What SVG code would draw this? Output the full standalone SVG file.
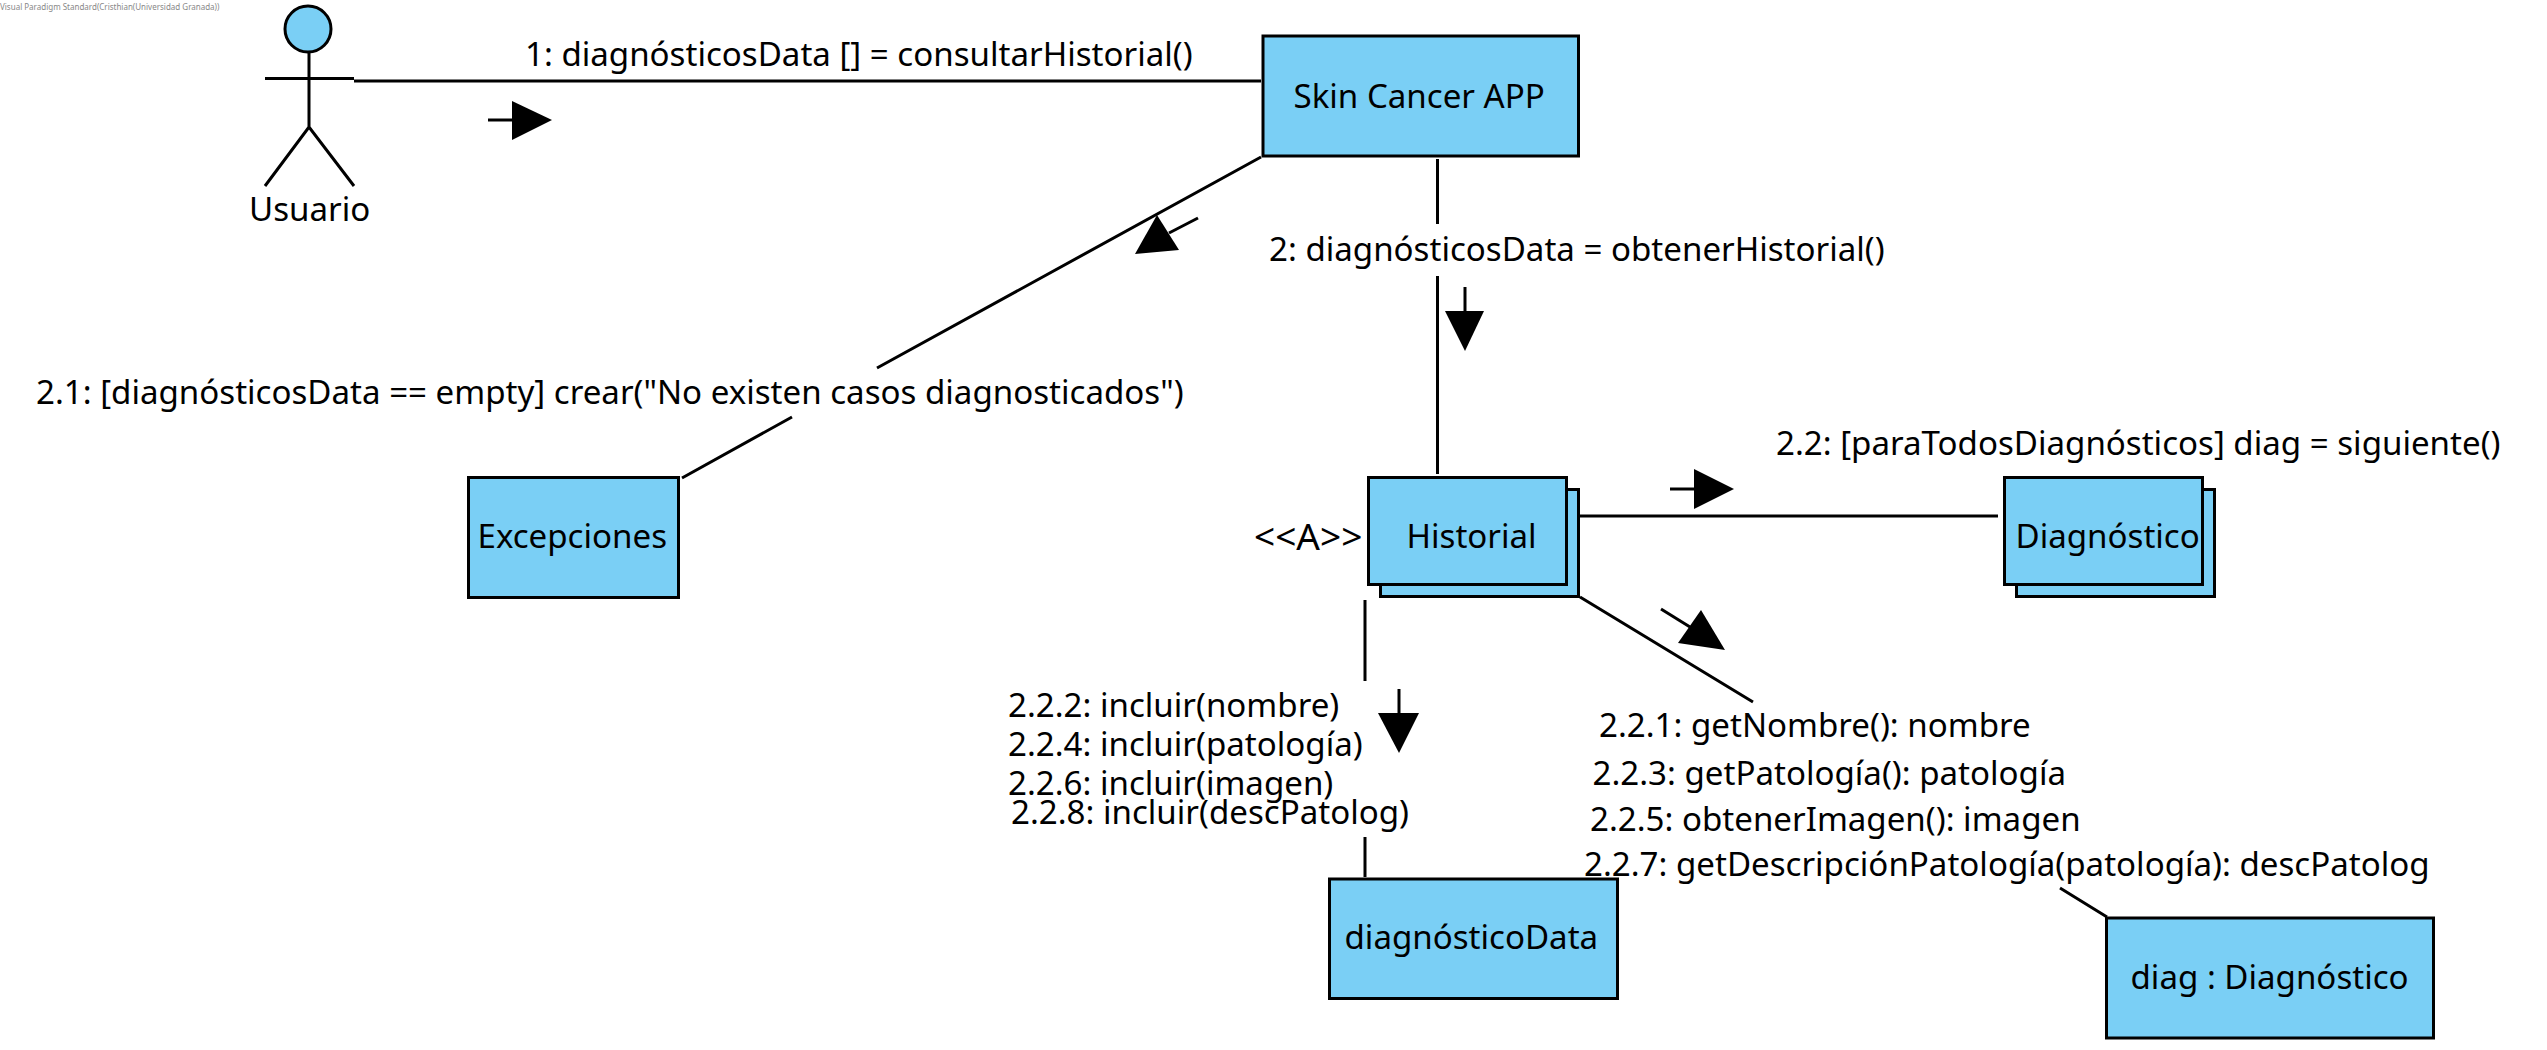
<svg xmlns="http://www.w3.org/2000/svg" width="2547" height="1050" viewBox="0 0 2547 1050">
<style>
text{font-family:"Noto Sans","DejaVu Sans",sans-serif;font-size:33.100px;fill:#000}
.b{fill:#7acff5;stroke:#000;stroke-width:3}
.l{fill:none;stroke:#000;stroke-width:3}
.t{fill:#000;stroke:none}
</style>
<rect width="2547" height="1050" fill="#fff"/>
<text x="0" y="10" style="font-size:8px;fill:#888">Visual Paradigm Standard(Cristhian(Universidad Granada))</text>
<g id="connectors">
<path class="l" d="M354 81H1261"/>
<path class="l" d="M1261 157L877 368M792 417L682 478"/>
<path class="l" d="M1437.500 159V224M1437.500 276V474"/>
<path class="l" d="M1579 516H1998"/>
<path class="l" d="M1365 600V681M1365 837V877"/>
<path class="l" d="M1580 597L1753 702M2060 888L2107 917"/>
<path class="l" d="M488 120H512"/><polygon class="t" points="512,101 552,120 512,140"/>
<path class="l" d="M1198 218L1169 233"/><polygon class="t" points="1157,215 1179,250 1135,254"/>
<path class="l" d="M1465 287V312"/><polygon class="t" points="1445,311 1484,311 1465,351"/>
<path class="l" d="M1670 489H1695"/><polygon class="t" points="1694,469 1734,489 1694,509"/>
<path class="l" d="M1661 609L1690 627"/><polygon class="t" points="1701,610 1678,643 1725,650"/>
<path class="l" d="M1399 689V713"/><polygon class="t" points="1378,713 1419,713 1399,753"/>
</g>
<g id="usuario">
<circle class="b" cx="308" cy="29" r="23"/>
<path class="l" d="M309 52V127M265 78.500H354M265 186L309 127L354 186"/>
<text x="249" y="221">Usuario</text>
</g>
<g id="skin-cancer-app"><rect class="b" x="1263" y="36" width="315.500" height="120"/><text x="1293.500" y="108">Skin Cancer APP</text></g>
<g id="excepciones"><rect class="b" x="468.500" y="477.500" width="210" height="120"/><text x="477.500" y="548">Excepciones</text></g>
<g id="historial"><rect class="b" x="1380.500" y="489.500" width="198" height="107"/><rect class="b" x="1368.500" y="477.500" width="198" height="107"/><text x="1406.500" y="548">Historial</text><text x="1254" y="550" style="font-size:37px">&lt;&lt;A&gt;&gt;</text></g>
<g id="diagnostico"><rect class="b" x="2016.500" y="489.500" width="198" height="107"/><rect class="b" x="2004.500" y="477.500" width="198" height="107"/><text x="2015.500" y="548">Diagnóstico</text></g>
<g id="diagnostico-data"><rect class="b" x="1329.500" y="879" width="288" height="119.500"/><text x="1344.500" y="949">diagnósticoData</text></g>
<g id="diag"><rect class="b" x="2106.500" y="918" width="327" height="120"/><text x="2130.500" y="989">diag : Diagnóstico</text></g>
<g id="labels">
<text x="525" y="66">1: diagnósticosData [] = consultarHistorial()</text>
<text x="1269" y="261">2: diagnósticosData = obtenerHistorial()</text>
<text x="36" y="404">2.1: [diagnósticosData == empty] crear("No existen casos diagnosticados")</text>
<text x="1776" y="455">2.2: [paraTodosDiagnósticos] diag = siguiente()</text>
<text x="1008" y="717">2.2.2: incluir(nombre)</text>
<text x="1008" y="756">2.2.4: incluir(patología)</text>
<text x="1008" y="795">2.2.6: incluir(imagen)</text>
<text x="1011" y="824">2.2.8: incluir(descPatolog)</text>
<text x="1599" y="737">2.2.1: getNombre(): nombre</text>
<text x="1592.500" y="785">2.2.3: getPatología(): patología</text>
<text x="1590" y="831">2.2.5: obtenerImagen(): imagen</text>
<text x="1584" y="876">2.2.7: getDescripciónPatología(patología): descPatolog</text>
</g>
</svg>
